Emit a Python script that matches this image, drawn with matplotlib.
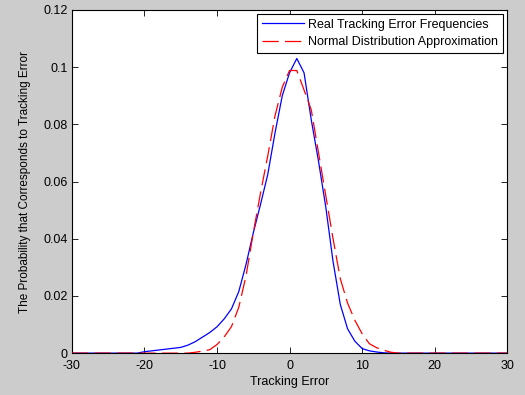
import matplotlib
matplotlib.use("Agg")
import matplotlib.pyplot as plt
import numpy as np

plt.rcParams['font.family'] = ['Liberation Sans', 'DejaVu Sans']

x_vals = list(range(-30, 31))

blue_vals = [0]*10 + [
    0.0005, 0.0008, 0.0011, 0.0014, 0.0017, 0.0020, 0.0028, 0.0040, 0.0056, 0.0072,  # -20..-11
    0.0092, 0.0120, 0.0155, 0.0215, 0.0310, 0.0420, 0.0520, 0.0625, 0.0770, 0.0900,  # -10..-1
    0.0980, 0.1030, 0.0980, 0.0815, 0.0670, 0.0510, 0.0320, 0.0170, 0.0085, 0.0042,  # 0..9
    0.0016, 0.0008, 0.0004, 0.0001,  # 10..13
] + [0]*17

red_vals = [0]*17 + [
    0.0003, 0.0007, 0.0012,  # -13..-11
    0.0030, 0.0057, 0.0093, 0.0160, 0.0270, 0.0420, 0.0560, 0.0690, 0.0830, 0.0930,  # -10..-1
    0.0988, 0.0988, 0.0920, 0.0850, 0.0700, 0.0550, 0.0400, 0.0260, 0.0175, 0.0115,  # 0..9
    0.0068, 0.0033, 0.0019, 0.0010, 0.0003,  # 10..14
] + [0]*16

series_labels = ['Real Tracking Error Frequencies', 'Normal Distribution Approximation']
x_ticks = [-30, -20, -10, 0, 10, 20, 30]
y_ticks = [0, 0.02, 0.04, 0.06, 0.08, 0.1, 0.12]
y_tick_labels = ['0', '0.02', '0.04', '0.06', '0.08', '0.1', '0.12']

fig = plt.figure(figsize=(5.25, 3.95), dpi=100, facecolor='#cccccc')
ax = fig.add_axes([0.137, 0.106, 0.829, 0.869])
ax.set_facecolor('white')

ax.plot(x_vals, blue_vals, color='#0000ff', lw=0.9, label=series_labels[0], zorder=2)
ax.plot(x_vals, red_vals, color='#ff0000', lw=0.9, dashes=(13, 5), label=series_labels[1], zorder=3)

ax.set_xlim(-30, 30)
ax.set_ylim(0, 0.12)
ax.set_xticks(x_ticks)
ax.set_xticklabels([str(t) for t in x_ticks])
ax.set_yticks(y_ticks)
ax.set_yticklabels(y_tick_labels)
ax.tick_params(direction='in', top=True, right=True, labelsize=9, length=4, width=0.6, pad=3, colors='black')
ax.tick_params(axis='x', pad=5)
for s in ax.spines.values():
    s.set_linewidth(0.8)
    s.set_color('black')

ax.set_xlabel('Tracking Error', fontsize=9, labelpad=3)
ax.set_ylabel('The Probability that Corresponds to Tracking Error', fontsize=8.5, labelpad=9)

leg = ax.legend(loc='upper right', fontsize=9, frameon=True, fancybox=False,
                edgecolor='black', framealpha=1, borderaxespad=0.3,
                handlelength=3.4, borderpad=0.4, labelspacing=0.45, handletextpad=0.35)
leg.get_frame().set_linewidth(0.8)

fig.savefig('out.png', dpi=100, facecolor=fig.get_facecolor())
